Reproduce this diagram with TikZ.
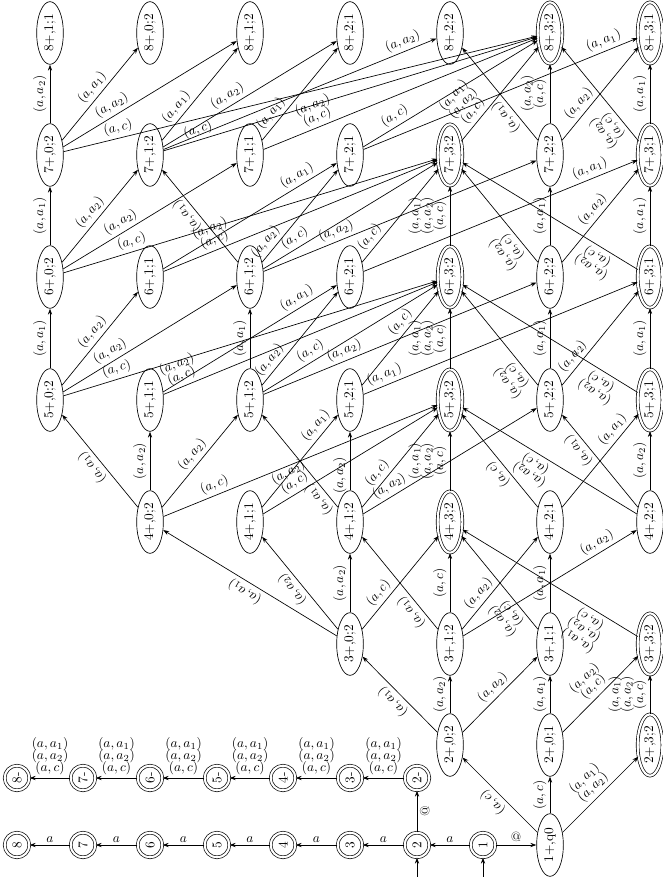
\documentclass[tikz,border=0pt]{standalone}
\usetikzlibrary{arrows.meta,shapes.geometric}
\newcommand{\myA}{$(a,a_1)$}
\newcommand{\myB}{$(a,a_2)$}
\newcommand{\myC}{$(a,c)$}
\newcommand{\myBC}{\myB\\[-2.75pt]\myC}
\newcommand{\myAB}{\myA\\[-2.75pt]\myB}
\newcommand{\myABC}{\myA\\[-2.75pt]\myB\\[-2.75pt]\myC}
\begin{document}
\begin{tikzpicture}[x=0.75pt,y=-0.75pt,line width=0.5pt,
  >={Stealth[length=4.5pt,width=3.2pt]},
  st/.style={draw, ellipse, rotate=90, minimum width=47pt, minimum height=20pt, inner sep=0pt},
  acc/.style={st, double, double distance=1.6pt, minimum width=46pt, minimum height=18.5pt},
  ch/.style={draw, circle, double, double distance=1.6pt, rotate=90, minimum size=18.5pt, inner sep=0pt},
  tr/.style={->},
  lb/.style={sloped, allow upside down, above, align=center, inner sep=2.5pt},
  cl/.style={above, align=center, inner sep=2pt}]
\useasboundingbox (0,0) rectangle (663,877);
% chain
\node[ch] (c1) at (483,845) {1};
\node[ch] (c2) at (417,845) {2};
\node[ch] (c3) at (350,845) {3};
\node[ch] (c4) at (283,845) {4};
\node[ch] (c5) at (217,845) {5};
\node[ch] (c6) at (150,845) {6};
\node[ch] (c7) at (83,845) {7};
\node[ch] (c8) at (17,845) {8};
\node[ch] (d2) at (417,778) {2-};
\node[ch] (d3) at (350,778) {3-};
\node[ch] (d4) at (283,778) {4-};
\node[ch] (d5) at (217,778) {5-};
\node[ch] (d6) at (150,778) {6-};
\node[ch] (d7) at (83,778) {7-};
\node[ch] (d8) at (17,778) {8-};
\coordinate (i1) at (483,877);
\coordinate (i2) at (417,877);
% states
\node[st] (q0) at (550,845) {1+,q0};
\node[st] (n2x0y2) at (450,745) {2+,0;2};
\node[st] (n2x0y1) at (550,745) {2+,0;1};
\node[acc] (n2x3y2) at (650,745) {2+,3;2};
\node[st] (n3x0y2) at (350,644) {3+,0;2};
\node[st] (n3x1y2) at (450,644) {3+,1;2};
\node[st] (n3x1y1) at (550,644) {3+,1;1};
\node[acc] (n3x3y2) at (650,644) {3+,3;2};
\node[st] (n4x0y2) at (150,522) {4+,0;2};
\node[st] (n4x1y1) at (250,522) {4+,1;1};
\node[st] (n4x1y2) at (350,522) {4+,1;2};
\node[acc] (n4x3y2) at (450,522) {4+,3;2};
\node[st] (n4x2y1) at (550,522) {4+,2;1};
\node[st] (n4x2y2) at (650,522) {4+,2;2};
\node[st] (n5x0y2) at (50,400) {5+,0;2};
\node[st] (n5x1y1) at (150,400) {5+,1;1};
\node[st] (n5x1y2) at (250,400) {5+,1;2};
\node[st] (n5x2y1) at (350,400) {5+,2;1};
\node[acc] (n5x3y2) at (450,400) {5+,3;2};
\node[st] (n5x2y2) at (550,400) {5+,2;2};
\node[acc] (n5x3y1) at (650,400) {5+,3;1};
\node[st] (n6x0y2) at (50,277) {6+,0;2};
\node[st] (n6x1y1) at (150,277) {6+,1;1};
\node[st] (n6x1y2) at (250,277) {6+,1;2};
\node[st] (n6x2y1) at (350,277) {6+,2;1};
\node[acc] (n6x3y2) at (450,277) {6+,3;2};
\node[st] (n6x2y2) at (550,277) {6+,2;2};
\node[acc] (n6x3y1) at (650,277) {6+,3;1};
\node[st] (n7x0y2) at (50,155) {7+,0;2};
\node[st] (n7x1y2) at (150,155) {7+,1;2};
\node[st] (n7x1y1) at (250,155) {7+,1;1};
\node[st] (n7x2y1) at (350,155) {7+,2;1};
\node[acc] (n7x3y2) at (450,155) {7+,3;2};
\node[st] (n7x2y2) at (550,155) {7+,2;2};
\node[acc] (n7x3y1) at (650,155) {7+,3;1};
\node[st] (n8x1y1) at (50,33) {8+,1;1};
\node[st] (n8x0y2) at (150,33) {8+,0;2};
\node[st] (n8x1y2) at (250,33) {8+,1;2};
\node[st] (n8x2y1) at (350,33) {8+,2;1};
\node[st] (n8x2y2) at (450,33) {8+,2;2};
\node[acc] (n8x3y2) at (550,33) {8+,3;2};
\node[acc] (n8x3y1) at (650,33) {8+,3;1};
% chain edges
\draw[tr] (i1) -- (c1);
\draw[tr] (i2) -- (c2);
\draw[tr] (c1) -- node[cl] {@} (q0);
\draw[tr] (c1) -- node[cl] {$a$} (c2);
\draw[tr] (c2) -- node[cl] {$a$} (c3);
\draw[tr] (c3) -- node[cl] {$a$} (c4);
\draw[tr] (c4) -- node[cl] {$a$} (c5);
\draw[tr] (c5) -- node[cl] {$a$} (c6);
\draw[tr] (c6) -- node[cl] {$a$} (c7);
\draw[tr] (c7) -- node[cl] {$a$} (c8);
\draw[tr] (c2) -- node[sloped, allow upside down, below, inner sep=2pt] {@} (d2);
\draw[tr] (d2) -- node[cl] {\myABC} (d3);
\draw[tr] (d3) -- node[cl] {\myABC} (d4);
\draw[tr] (d4) -- node[cl] {\myABC} (d5);
\draw[tr] (d5) -- node[cl] {\myABC} (d6);
\draw[tr] (d6) -- node[cl] {\myABC} (d7);
\draw[tr] (d7) -- node[cl] {\myABC} (d8);
% row 1 -> 2
\draw[tr] (q0) -- node[lb,pos=0.5] {\myC} (n2x0y2);
\draw[tr] (q0) -- node[lb,pos=0.5] {\myC} (n2x0y1);
\draw[tr] (q0) -- node[lb,pos=0.5] {\myAB} (n2x3y2);
% row 2 -> 3
\draw[tr] (n2x0y2) -- node[lb,pos=0.5] {\myA} (n3x0y2);
\draw[tr] (n2x0y2) -- node[lb,pos=0.5] {\myB} (n3x1y2);
\draw[tr] (n2x0y2) -- node[lb,pos=0.5] {\myB} (n3x1y1);
\draw[tr] (n2x0y1) -- node[lb,pos=0.5] {\myA} (n3x1y1);
\draw[tr] (n2x0y1) -- node[lb,pos=0.5] {\myBC} (n3x3y2);
\draw[tr] (n2x3y2) -- node[lb,pos=0.5] {\myABC} (n3x3y2);
% row 3 -> 4
\draw[tr] (n3x0y2) -- node[lb,pos=0.5] {\myA} (n4x0y2);
\draw[tr] (n3x0y2) -- node[lb,pos=0.5] {\myB} (n4x1y1);
\draw[tr] (n3x0y2) -- node[lb,pos=0.5] {\myB} (n4x1y2);
\draw[tr] (n3x0y2) -- node[lb,pos=0.32] {\myC} (n4x3y2);
\draw[tr] (n3x1y2) -- node[lb,pos=0.25] {\myA} (n4x1y2);
\draw[tr] (n3x1y2) -- node[lb,pos=0.5] {\myC} (n4x3y2);
\draw[tr] (n3x1y2) -- node[lb,pos=0.32] {\myB} (n4x2y1);
\draw[tr] (n3x1y2) -- node[lb,pos=0.8] {\myB} (n4x2y2);
\draw[tr] (n3x1y1) -- node[lb,pos=0.5] {\myA} (n4x2y1);
\draw[tr] (n3x1y1) -- node[lb,pos=0.24] {\myBC} (n4x3y2);
\draw[tr] (n3x3y2) -- node[lb,pos=0.24] {\myABC} (n4x3y2);
% row 4 -> 5
\draw[tr] (n4x0y2) -- node[lb,pos=0.5] {\myA} (n5x0y2);
\draw[tr] (n4x0y2) -- node[lb,pos=0.5] {\myB} (n5x1y1);
\draw[tr] (n4x0y2) -- node[lb,pos=0.5] {\myB} (n5x1y2);
\draw[tr] (n4x0y2) -- node[lb,pos=0.2] {\myC} (n5x3y2);
\draw[tr] (n4x1y1) -- node[lb,pos=0.81] {\myA} (n5x2y1);
\draw[tr] (n4x1y1) -- node[lb,pos=0.21] {\myBC} (n5x3y2);
\draw[tr] (n4x1y2) -- node[lb,pos=0.15] {\myA} (n5x1y2);
\draw[tr] (n4x1y2) -- node[lb,pos=0.25] {\myB} (n5x2y1);
\draw[tr] (n4x1y2) -- node[lb,pos=0.18] {\myB} (n5x2y2);
\draw[tr] (n4x1y2) -- node[lb,pos=0.3] {\myC} (n5x3y2);
\draw[tr] (n4x3y2) -- node[lb,pos=0.5] {\myABC} (n5x3y2);
\draw[tr] (n4x2y1) -- node[lb,pos=0.76] {\myA} (n5x3y1);
\draw[tr] (n4x2y1) -- node[lb,pos=0.42] {\myC} (n5x3y2);
\draw[tr] (n4x2y2) -- node[lb,pos=0.68] {\myA} (n5x2y2);
\draw[tr] (n4x2y2) -- node[lb,pos=0.5] {\myB} (n5x3y1);
\draw[tr] (n4x2y2) -- node[lb,pos=0.55] {\myBC} (n5x3y2);
% row 5 -> 6
\draw[tr] (n5x0y2) -- node[lb,pos=0.5] {\myA} (n6x0y2);
\draw[tr] (n5x0y2) -- node[lb,pos=0.5] {\myB} (n6x1y1);
\draw[tr] (n5x0y2) -- node[lb,pos=0.3] {\myB} (n6x1y2);
\draw[tr] (n5x0y2) -- node[lb,pos=0.15] {\myC} (n6x3y2);
\draw[tr] (n5x1y1) -- node[lb,pos=0.8] {\myA} (n6x2y1);
\draw[tr] (n5x1y1) -- node[lb,pos=0.08] {\myBC} (n6x3y2);
\draw[tr] (n5x1y2) -- node[lb,pos=0.5] {\myA} (n6x1y2);
\draw[tr] (n5x1y2) -- node[lb,pos=0.2] {\myB} (n6x2y1);
\draw[tr] (n5x1y2) -- node[lb,pos=0.31] {\myB} (n6x2y2);
\draw[tr] (n5x1y2) -- node[lb,pos=0.3] {\myC} (n6x3y2);
\draw[tr] (n5x2y1) -- node[lb,pos=0.09] {\myA} (n6x3y1);
\draw[tr] (n5x2y1) -- node[lb,pos=0.6] {\myC} (n6x3y2);
\draw[tr] (n5x3y2) -- node[lb,pos=0.5] {\myABC} (n6x3y2);
\draw[tr] (n5x2y2) -- node[lb,pos=0.5] {\myA} (n6x2y2);
\draw[tr] (n5x2y2) -- node[lb,pos=0.24] {\myB} (n6x3y1);
\draw[tr] (n5x2y2) -- node[lb,pos=0.17] {\myBC} (n6x3y2);
\draw[tr] (n5x3y1) -- node[lb,pos=0.5] {\myA} (n6x3y1);
\draw[tr] (n5x3y1) -- node[lb,pos=0.18] {\myBC} (n6x3y2);
% row 6 -> 7
\draw[tr] (n6x0y2) -- node[lb,pos=0.5] {\myA} (n7x0y2);
\draw[tr] (n6x0y2) -- node[lb,pos=0.47] {\myB} (n7x1y2);
\draw[tr] (n6x0y2) -- node[lb,pos=0.36] {\myB} (n7x1y1);
\draw[tr] (n6x0y2) -- node[lb,pos=0.19] {\myC} (n7x3y2);
\draw[tr] (n6x1y1) -- node[lb,pos=0.8] {\myA} (n7x2y1);
\draw[tr] (n6x1y1) -- node[lb,pos=0.2] {\myBC} (n7x3y2);
\draw[tr] (n6x1y2) -- node[lb,pos=0.57] {\myA} (n7x1y2);
\draw[tr] (n6x1y2) -- node[lb,pos=0.15] {\myB} (n7x2y1);
\draw[tr] (n6x1y2) -- node[lb,pos=0.28] {\myB} (n7x2y2);
\draw[tr] (n6x1y2) -- node[lb,pos=0.21] {\myC} (n7x3y2);
\draw[tr] (n6x2y1) -- node[lb,pos=0.84] {\myA} (n7x3y1);
\draw[tr] (n6x2y1) -- node[lb,pos=0.2] {\myC} (n7x3y2);
\draw[tr] (n6x3y2) -- node[lb,pos=0.5] {\myABC} (n7x3y2);
\draw[tr] (n6x2y2) -- node[lb,pos=0.5] {\myA} (n7x2y2);
\draw[tr] (n6x2y2) -- node[lb,pos=0.5] {\myB} (n7x3y1);
\draw[tr] (n6x2y2) -- node[lb,pos=0.23] {\myBC} (n7x3y2);
\draw[tr] (n6x3y1) -- node[lb,pos=0.5] {\myA} (n7x3y1);
\draw[tr] (n6x3y1) -- node[lb,pos=0.2] {\myBC} (n7x3y2);
% row 7 -> 8
\draw[tr] (n7x0y2) -- node[lb,pos=0.5] {\myB} (n8x1y1);
\draw[tr] (n7x0y2) -- node[lb,pos=0.5] {\myA} (n8x0y2);
\draw[tr] (n7x0y2) -- node[lb,pos=0.31] {\myB} (n8x1y2);
\draw[tr] (n7x0y2) -- node[lb,pos=0.12] {\myC} (n8x3y2);
\draw[tr] (n7x1y2) -- node[lb,pos=0.29] {\myA} (n8x1y2);
\draw[tr] (n7x1y2) -- node[lb,pos=0.4] {\myB} (n8x2y1);
\draw[tr] (n7x1y2) -- node[lb,pos=0.89] {\myB} (n8x2y2);
\draw[tr] (n7x1y2) -- node[lb,pos=0.1] {\myC} (n8x3y2);
\draw[tr] (n7x1y1) -- node[lb,pos=0.22] {\myA} (n8x2y1);
\draw[tr] (n7x1y1) -- node[lb,pos=0.21] {\myBC} (n8x3y2);
\draw[tr] (n7x2y1) -- node[lb,pos=0.89] {\myA} (n8x3y1);
\draw[tr] (n7x2y1) -- node[lb,pos=0.21] {\myC} (n8x3y2);
\draw[tr] (n7x3y2) -- node[lb,pos=0.25] {\myABC} (n8x3y2);
\draw[tr] (n7x2y2) -- node[lb,pos=0.5] {\myBC} (n8x3y2);
\draw[tr] (n7x2y2) -- node[lb,pos=0.32] {\myB} (n8x3y1);
\draw[tr] (n7x2y2) -- node[lb,pos=0.32] {\myA} (n8x2y2);
\draw[tr] (n7x3y1) -- node[lb,pos=0.5] {\myA} (n8x3y1);
\draw[tr] (n7x3y1) -- node[lb,pos=0.23] {\myBC} (n8x3y2);
\end{tikzpicture}
\end{document}
